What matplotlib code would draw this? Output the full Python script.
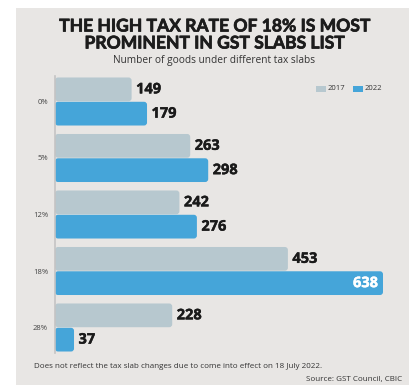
import matplotlib
matplotlib.use("Agg")
import matplotlib.pyplot as plt
from matplotlib.patches import Rectangle, FancyBboxPatch
import matplotlib.patheffects as pe
import numpy as np

categories = ["0%", "5%", "12%", "18%", "28%"]
vals_2017 = [149, 263, 242, 453, 228]
vals_2022 = [179, 298, 276, 638, 37]
series_names = ["2017", "2022"]

C17 = "#b7c8cf"
C22 = "#45a5d9"
BG = "#e8e6e4"

W, H = 409, 385
fig = plt.figure(figsize=(W/100, H/100), dpi=100)
fig.patch.set_facecolor("white")
fig.patches.append(Rectangle((16/W, 0), 1-16/W, 1-7.5/H, transform=fig.transFigure,
                             facecolor=BG, edgecolor="none", zorder=-10))

ax = fig.add_axes([55/W, 1-355.75/H, (383-55)/W, 282.5/H])
ax.set_zorder(1)
ax.set_facecolor("none")
ax.set_xlim(0, 638)
ax.set_ylim(4.5, -0.5)
for s in ["top", "right", "bottom"]:
    ax.spines[s].set_visible(False)
ax.spines["left"].set_color("#c4c4c4")
ax.spines["left"].set_linewidth(1.2)
ax.spines["left"].set_bounds(-0.45, 4.45)
ax.set_xticks([])
ax.set_yticks(range(len(categories)))
ax.set_yticklabels(categories, fontsize=5.5, color="#444444", family="Open Sans")
ax.tick_params(axis="y", length=0, pad=5)

y = np.arange(len(categories))
h = 0.42
off = 0.215
b1 = ax.barh(y - off, vals_2017, height=h, color=C17)
b2 = ax.barh(y + off, vals_2022, height=h, color=C22)

px_x = 638 / ((383-55))
px_y = 5 / 282.5
for bars in (b1, b2):
    for p in bars:
        x0, y0 = p.get_x(), p.get_y()
        w, hh = p.get_width(), p.get_height()
        fb = FancyBboxPatch((x0, y0), w, hh,
                            boxstyle=f"round,pad=0,rounding_size={3*px_x}",
                            mutation_aspect=px_y/px_x,
                            facecolor=p.get_facecolor(), edgecolor="none", zorder=2)
        p.set_visible(False)
        ax.add_patch(fb)

stroke_dark = [pe.withStroke(linewidth=0.3, foreground="#1a1a1a")]
stroke_white = [pe.withStroke(linewidth=0.3, foreground="white")]
vfont = dict(family="Open Sans", weight="bold", fontsize=10.5, color="#1a1a1a")
gap = 4.5 * px_x
for i in range(len(categories)):
    ax.text(vals_2017[i] + gap, y[i] - off, str(vals_2017[i]), va="center", ha="left",
            path_effects=stroke_dark, **vfont)
    if vals_2022[i] == max(vals_2022):
        ax.text(vals_2022[i] - 5*px_x, y[i] + off, str(vals_2022[i]), va="center", ha="right",
                family="Open Sans", weight="bold", fontsize=10.5, color="white",
                path_effects=stroke_white)
    else:
        ax.text(vals_2022[i] + gap, y[i] + off, str(vals_2022[i]), va="center", ha="left",
                path_effects=stroke_dark, **vfont)

# legend
for name, col, lx in [(series_names[0], C17, 316), (series_names[1], C22, 353)]:
    fig.patches.append(Rectangle((lx/W, 1-92/H), 10/W, 6/H, transform=fig.transFigure,
                                 facecolor=col, edgecolor="none"))
    fig.text((lx+12)/W, 1-89/H, name, fontsize=5.5, color="#333333", va="center", ha="left",
             family="Open Sans")

tkw = dict(ha="center", va="center", fontsize=12.6, fontweight="bold", family="Lato",
           color="#1c1c1c", path_effects=[pe.withStroke(linewidth=0.5, foreground="#1c1c1c")])
fig.text(214/W, 1-26.5/H, "THE HIGH TAX RATE OF 18% IS MOST", **tkw)
fig.text(214/W, 1-43.5/H, "PROMINENT IN GST SLABS LIST", **tkw)
fig.text(214/W, 1-61/H, "Number of goods under different tax slabs", ha="center", va="center",
         fontsize=7.3, color="#333333", family="Open Sans")
fig.text(34/W, 1-367/H, "Does not reflect the tax slab changes due to come into effect on 18 July 2022.",
         ha="left", va="center", fontsize=5.8, color="#333333", family="Open Sans")
fig.text(402/W, 1-380/H, "Source: GST Council, CBIC", ha="right", va="center",
         fontsize=5.8, color="#333333", family="Open Sans")

fig.savefig("out.png", dpi=100, facecolor=fig.get_facecolor())
